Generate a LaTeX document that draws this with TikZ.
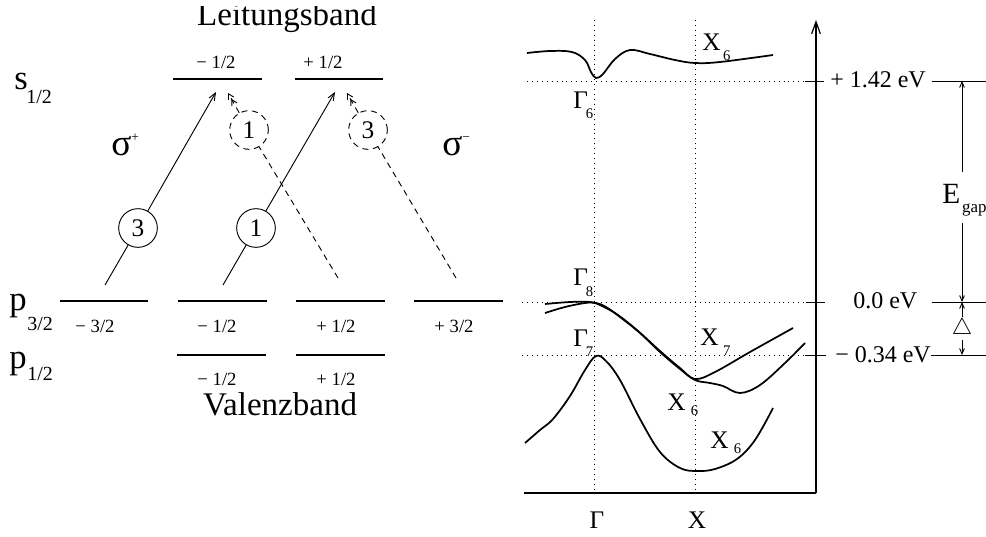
\documentclass[tikz,border=0pt]{standalone}
\usepackage{fontspec}
\setmainfont{Liberation Serif}
\usetikzlibrary{arrows.meta}
\newcommand\lab[4]{#1\kern#3\raisebox{-#4}{\fontsize{11}{12}\selectfont #2}}
\begin{document}
\begin{tikzpicture}[x=0.75pt,y=-0.75pt,
  lvl/.style={line width=1.5pt},
  big/.style={font=\fontsize{24.75}{28}\selectfont, inner sep=0pt, anchor=base},
  sm/.style={font=\fontsize{14}{16}\selectfont, inner sep=0pt, anchor=base},
  mid/.style={font=\fontsize{19}{21}\selectfont, inner sep=0pt, anchor=base west},
  ev/.style={font=\fontsize{18}{20}\selectfont, inner sep=0pt, anchor=base west},
  lbig/.style={font=\fontsize{26}{28}\selectfont, inner sep=0pt, anchor=base west},
  lsub/.style={font=\fontsize{15}{16}\selectfont, inner sep=0pt, anchor=base west},
  sig/.style={font=\fontsize{28}{30}\selectfont, inner sep=0pt, anchor=base west},
  tr/.style={line width=0.7pt},
  tip/.style={-{Straight Barb[length=5.5pt,width=4.5pt]}},
  dtip/.style={-{Straight Barb[length=4pt,width=4.5pt] Straight Barb[length=4pt,width=4.5pt]}},
  dsh/.style={dash pattern=on 4.5pt off 3.5pt},
  num/.style={circle, draw, line width=0.7pt, minimum size=29pt, inner sep=0pt, font=\fontsize{19}{20}\selectfont},
  band/.style={line width=1.3pt, smooth, tension=0.6},
  dot/.style={line width=0.6pt, dash pattern=on 0.7pt off 3pt},
  thin/.style={line width=0.75pt},
  small tip/.style={-{Straight Barb[length=4pt,width=3.5pt]}}
]
\useasboundingbox (0,0) rectangle (986,536);

% ---------- left: level scheme ----------
\begin{scope}
\clip (0,6) rectangle (986,60);
\node[big] (leit) at (287,25) {Leitungsband};
\end{scope}
\node[big] (val) at (280,415) {Valenzband};

\node[lbig] (s) at (14,89) {s};
\node[lsub] (ssub) at (26,103) {1/2};
\node[lbig] (p3) at (9,310) {p};
\node[lsub] (p3sub) at (27,330) {3/2};
\node[lbig] (p1) at (9,368) {p};
\node[lsub] (p1sub) at (27,380) {1/2};

% levels
\draw[lvl] (173,79) -- (262,79);
\draw[lvl] (295,79) -- (383,79);
\draw[lvl] (60,301) -- (148,301);
\draw[lvl] (178,301) -- (267,301);
\draw[lvl] (296,301) -- (385,301);
\draw[lvl] (414,301) -- (503,301);
\draw[lvl] (177,355) -- (266,355);
\draw[lvl] (296,355) -- (385,355);

\node[sm] (sa) at (216,68) {− 1/2};
\node[sm] (sb) at (323,68) {+ 1/2};
\node[sm] (pa) at (95,332) {− 3/2};
\node[sm] (pb) at (217,332) {− 1/2};
\node[sm] (pc) at (336,332) {+ 1/2};
\node[sm] (pd) at (454,332) {+ 3/2};
\node[sm] (qa) at (217,385) {− 1/2};
\node[sm] (qb) at (336,385) {+ 1/2};

\node[sig] (sigp) at (111,155) {σ\raisebox{10pt}{\fontsize{10}{10}\selectfont +}};
\node[sig] (sigm) at (442,155) {σ\raisebox{10pt}{\fontsize{10}{10}\selectfont −}};

% transitions
\coordinate (a1) at (105,285); \coordinate (t1) at (216,92);
\coordinate (a2) at (223,285); \coordinate (t2) at (335,92);
\coordinate (d1) at (338,278); \coordinate (u1) at (228,93);
\coordinate (d2) at (456,278); \coordinate (u2) at (347,93);
\node[num] (c3s) at (138,228) {3};
\node[num] (c1s) at (256,228) {1};
\node[num, dsh] (c1d) at (249,130) {1};
\node[num, dsh] (c3d) at (368,130) {3};
\draw[tr] (a1) -- (c3s);
\draw[tr, tip] (c3s) -- (t1);
\draw[tr] (a2) -- (c1s);
\draw[tr, tip] (c1s) -- (t2);
\draw[tr, dsh] (d1) -- (c1d);
\draw[tr, dsh, dtip] (c1d) -- (u1);
\draw[tr, dsh] (d2) -- (c3d);
\draw[tr, dsh, dtip] (c3d) -- (u2);

% ---------- right: band structure ----------
\coordinate (O) at (816,493);
\coordinate (Ytop) at (816,20);
\coordinate (Xl) at (524,493);
\draw[line width=0.9pt, -{Straight Barb[length=9pt,width=6.5pt]}] (O) -- (Ytop);
\draw[line width=0.9pt] (Xl) -- (O);

\draw[dot] (594,20) -- (594,493);
\draw[dot] (695,20) -- (695,493);
\draw[dot] (527,81) -- (806,81);
\draw[dot] (522,302) -- (808,302);
\draw[dot] (522,355) -- (806,355);
\draw[thin] (805,81) -- (824,81);
\draw[thin] (806,302) -- (825,302);
\draw[thin] (805,355) -- (826,355);

% bands
\draw[band] plot coordinates {(527,53) (550,51) (572,52) (585,60) (591,72) (596,78) (603,74) (615,59) (630,50) (650,54) (675,60) (695,63) (720,62) (773,55)};
\draw[band] plot coordinates {(545,304) (570,302) (590,302) (602,306) (618,315) (638,331) (660,351) (680,368) (695,379) (715,372) (750,352) (793,328)};
\draw[band] plot coordinates {(545,313) (565,307) (585,303) (596,303) (606,307) (620,317) (640,333) (660,352) (680,369) (695,380) (710,383) (723,386) (740,393) (760,385) (785,363) (805,343)};
\draw[band] plot coordinates {(525,443) (540,430) (553,419) (570,396) (585,370) (596,356) (606,361) (620,380) (640,419) (660,452) (680,468) (697,471) (715,469) (737,459) (755,440) (773,408)};

% band labels
\node[mid] (G6) at (573,108) {\lab{Γ}{6}{-1.5pt}{7.5pt}};
\node[mid] (X6a) at (702,50) {\lab{X}{6}{2pt}{7.5pt}};
\node[mid] (G8) at (573,285) {\lab{Γ}{8}{-1.5pt}{8.25pt}};
\node[mid] (G7) at (573,346) {\lab{Γ}{7}{-1.5pt}{7.5pt}};
\node[mid] (X7) at (700,345) {\lab{X}{7}{3.5pt}{7.5pt}};
\node[mid] (X6b) at (667,410) {\lab{X}{6}{4pt}{3.75pt}};
\node[mid] (X6c) at (710,448) {\lab{X}{6}{4pt}{3.75pt}};
\node[mid, anchor=base] (Gam) at (597,528) {Γ};
\node[mid, anchor=base] (Xp) at (697,528) {X};

% energy labels
\node[ev] (e1) at (830,87) {+ 1.42 eV};
\node[ev] (e2) at (853,308) {0.0 eV};
\node[ev] (e3) at (835,362) {− 0.34 eV};
\draw[thin] (932,81) -- (986,81);
\draw[thin] (932,302) -- (986,302);
\draw[thin] (931,355) -- (986,355);

\node[font=\fontsize{22}{24}\selectfont, inner sep=0pt, anchor=base west] (eg) at (942,203) {E\kern1.5pt\raisebox{-6.75pt}{\fontsize{12.7}{13}\selectfont gap}};
\coordinate (g0) at (962,81); \coordinate (g1) at (962,172);
\coordinate (g2) at (962,223); \coordinate (g3) at (962,302);
\draw[tr, small tip] (g1) -- (g0);
\draw[tr, small tip] (g2) -- (g3);
\node[inner sep=0pt, font=\fontsize{17}{18}\selectfont] (dl) at (962,329) {$\triangle$};
\coordinate (h1) at (962,317); \coordinate (h2) at (962,340); \coordinate (h3) at (962,355);
\draw[tr, small tip] (h1) -- (g3);
\draw[tr, small tip] (h2) -- (h3);
\end{tikzpicture}
\end{document}
